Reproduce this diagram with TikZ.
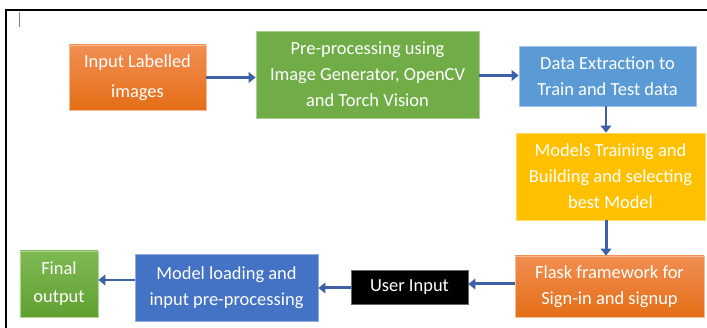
\documentclass[tikz,border=0pt]{standalone}
\usepackage{fontspec}
\setmainfont{Carlito}
\usepackage{tikz}
\usetikzlibrary{arrows.meta, positioning, shapes}

\definecolor{orangeTop}{RGB}{241,142,82}
\definecolor{orangeBot}{RGB}{228,110,22}
\definecolor{prepGreen}{RGB}{112,173,71}
\definecolor{lightBlue}{RGB}{91,155,213}
\definecolor{gold}{RGB}{255,192,0}
\definecolor{darkBlue}{RGB}{68,114,196}
\definecolor{greenTop}{RGB}{126,186,82}
\definecolor{greenBot}{RGB}{96,160,50}
\definecolor{arrowBlue}{RGB}{62,96,168}

\begin{document}
\begin{tikzpicture}[
    box/.style={rectangle, align=center, text=white, inner sep=2pt,
        font=\fontsize{10.5}{14.7}\selectfont},
    orange box/.style={box, top color=orangeTop, bottom color=orangeBot, draw=orangeTop!60!white, line width=0.4pt},
    green box/.style={box, top color=greenTop, bottom color=greenBot, draw=greenTop!60!white, line width=0.4pt},
    flat box/.style={box, fill=#1, draw=#1!60!white, line width=0.4pt},
    flow/.style={-{Triangle[length=4pt,width=6pt]}, line width=1.7pt, arrowBlue},
]

    \useasboundingbox (0,0) rectangle (14.14,6.56);

    % frame
    \draw[line width=1.1pt] (14.14,6.36) -- (0.12,6.36) -- (0.12,0);
    \draw[gray, line width=0.5pt] (0.38,6.32) -- (0.38,6.02);

    % Nodes
    \node[orange box, minimum width=2.74cm, minimum height=1.30cm, font=\fontsize{10.5}{17}\selectfont] (inp) at (2.75,5.01) {Input Labelled\\images};
    \node[flat box=prepGreen, minimum width=4.46cm, minimum height=1.74cm] (pre) at (7.35,5.07) {Pre-processing using\\Image Generator, OpenCV\\and Torch Vision};
    \node[flat box=lightBlue, minimum width=3.54cm, minimum height=1.20cm] (ext) at (12.15,5.04) {Data Extraction to\\Train and Test data};
    \node[flat box=gold, minimum width=3.78cm, minimum height=1.74cm] (train) at (12.21,3.03) {Models Training and\\Building and selecting\\best Model};
    \node[orange box, minimum width=3.78cm, minimum height=1.22cm] (flask) at (12.19,0.83) {Flask framework for\\Sign-in and signup};
    \node[flat box=black, minimum width=2.34cm, minimum height=0.68cm] (user) at (8.19,0.82) {User Input};
    \node[flat box=darkBlue, minimum width=3.66cm, minimum height=1.34cm] (load) at (4.53,0.81) {Model loading and\\input pre-processing};
    \node[green box, minimum width=1.56cm, minimum height=1.32cm, font=\fontsize{10.5}{16}\selectfont] (final) at (1.18,0.88) {Final\\output};

    % Edges
    \draw[flow] (inp.east) -- (inp.east -| pre.west);
    \draw[flow] ([yshift=-0.02cm]pre.east) -- ([yshift=-0.02cm]pre.east -| ext.west);
    \draw[flow] ([xshift=-0.03cm]ext.south) -- ([xshift=-0.03cm]ext.south |- train.north);
    \draw[flow] ([xshift=-0.09cm]train.south) -- ([xshift=-0.09cm]train.south |- flask.north);
    \draw[flow] ([yshift=0.05cm]flask.west) -- ([yshift=0.05cm]flask.west -| user.east);
    \draw[flow] ([yshift=-0.02cm]user.west) -- ([yshift=-0.02cm]user.west -| load.east);
    \draw[flow] ([yshift=0.15cm]load.west) -- ([yshift=0.15cm]load.west -| final.east);

\end{tikzpicture}
\end{document}
